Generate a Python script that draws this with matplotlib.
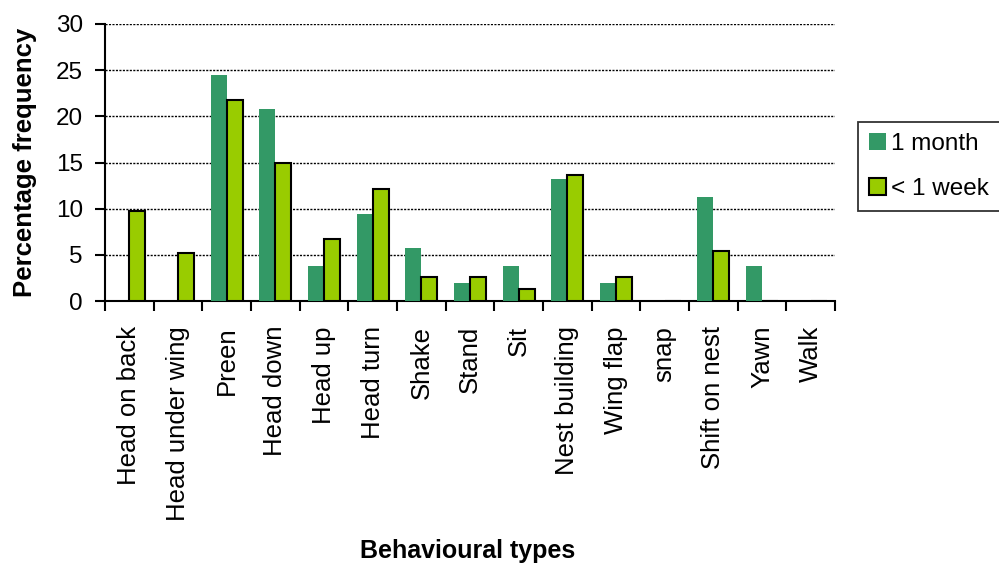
import numpy as np
import matplotlib.pyplot as plt
from matplotlib.patches import Patch

plt.rcParams['font.family'] = ['Liberation Sans', 'DejaVu Sans']

categories = ["Head on back", "Head under wing", "Preen", "Head down", "Head up",
              "Head turn", "Shake", "Stand", "Sit", "Nest building", "Wing flap",
              "snap", "Shift on nest", "Yawn", "Walk"]
one_month = [0, 0, 24.5, 20.8, 3.8, 9.4, 5.7, 1.9, 3.8, 13.2, 1.9, 0, 11.3, 3.8, 0]
under_week = [9.8, 5.2, 21.8, 15.0, 6.7, 12.1, 2.6, 2.6, 1.3, 13.6, 2.6, 0, 5.4, 0, 0]
series_names = ["1 month", "< 1 week"]
yticks = [0, 5, 10, 15, 20, 25, 30]

c_month = "#339966"
c_week = "#99CC00"

fig = plt.figure(figsize=(9.99, 5.67), dpi=100)
ax = fig.add_axes([105 / 999, 1 - 301 / 567, 730 / 999, 277 / 567])

n = len(categories)
x = np.arange(n)
w = 0.33
ax.bar(x - w / 2, one_month, width=w, color=c_month, edgecolor="none", zorder=3)
ax.bar(x + w / 2, under_week, width=w, color=c_week, edgecolor="black", linewidth=1.5, zorder=3)

ax.set_xlim(-0.5, n - 0.5)
ax.set_ylim(0, 30)
ax.set_yticks(yticks)
ax.set_yticklabels([str(v) for v in yticks], fontsize=17.5)
ax.yaxis.grid(True, color="black", linestyle=(0, (1.5, 1)), linewidth=1.0, zorder=1)
ax.set_axisbelow(True)

for s in ("top", "right"):
    ax.spines[s].set_visible(False)
for s in ("left", "bottom"):
    ax.spines[s].set_linewidth(1.5)

# category boundaries carry the tick marks, labels sit at the centres
ax.set_xticks(np.arange(-0.5, n, 1.0))
ax.set_xticklabels([])
ax.tick_params(axis="x", which="major", direction="out", length=7.5, width=1.5)
ax.set_xticks(x, minor=True)
ax.set_xticklabels(categories, minor=True, rotation=90, fontsize=18.5)
ax.tick_params(axis="x", which="minor", length=0, pad=18)
ax.tick_params(axis="y", direction="out", length=7, width=1.5, pad=9)

ax.set_ylabel("Percentage frequency", fontsize=18.5, fontweight="bold")
ax.yaxis.set_label_coords(-68 / 730, 0.5)
fig.text(468 / 999, 1 - 551 / 567, "Behavioural types", fontsize=18, fontweight="bold",
         ha="center", va="center")

handles = [Patch(facecolor=c_month, edgecolor="none"),
           Patch(facecolor=c_week, edgecolor="black", linewidth=1.5)]
leg = fig.legend(handles, series_names, loc="upper left",
                 bbox_to_anchor=(858 / 999, 1 - 122 / 567), fontsize=17.5,
                 frameon=True, fancybox=False, edgecolor="black",
                 handlelength=0.7, handleheight=0.7, handletextpad=0.2,
                 labelspacing=0.95, borderpad=0.45, borderaxespad=0)
leg.get_frame().set_linewidth(1.3)

fig.savefig("out.png", dpi=100)
